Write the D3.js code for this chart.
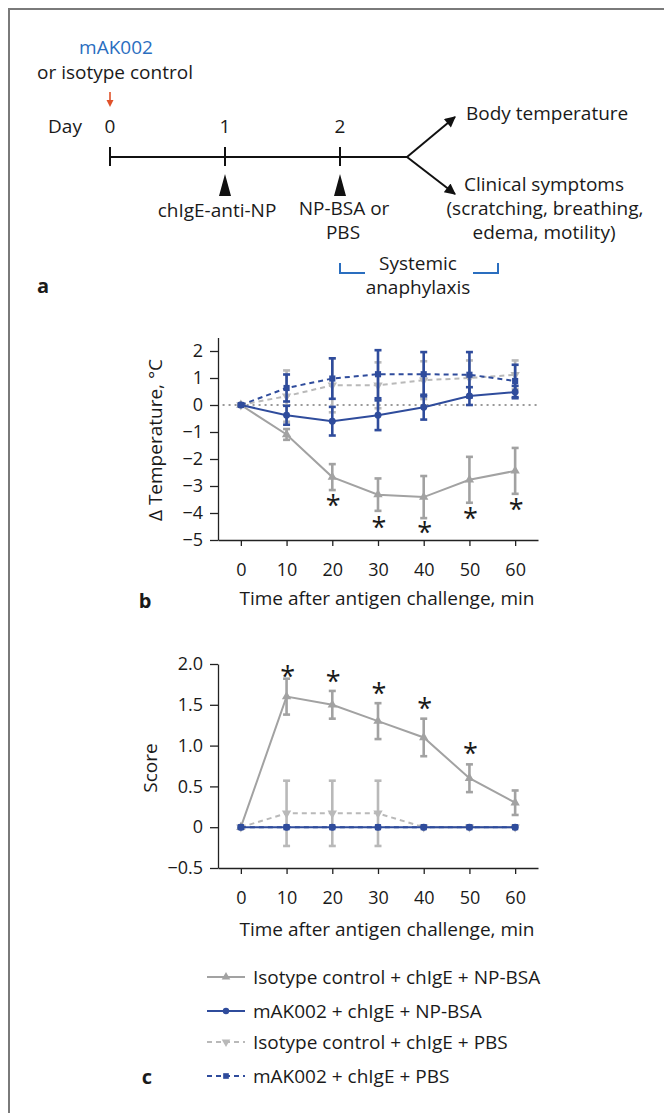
<!DOCTYPE html>
<html>
<head>
<meta charset="utf-8">
<script src="https://cdn.jsdelivr.net/npm/d3@7"></script>
<style>
body { margin: 0; background: #fff; }
text { font-family: "Open Sans", sans-serif; fill: #1a1a1a; }
</style>
</head>
<body>
<svg id="fig" width="664" height="1113"></svg>
<script>
// ---- data ----
const days = [0, 1, 2];
const minutes = [0, 10, 20, 30, 40, 50, 60];
const seriesNames = [
    "Isotype control + chIgE + NP-BSA",
    "mAK002 + chIgE + NP-BSA",
    "Isotype control + chIgE + PBS",
    "mAK002 + chIgE + PBS"
];

// panel b: change in body temperature (°C), mean and error
const tempIsoNP      = [0, -1.09, -2.67, -3.32, -3.41, -2.77, -2.44];
const tempIsoNPErr   = [0, 0.2, 0.48, 0.6, 0.78, 0.85, 0.85];
const tempMakNP      = [0, -0.38, -0.6, -0.38, -0.08, 0.33, 0.48];
const tempMakNPErr   = [0, 0.35, 0.53, 0.55, 0.46, 0.33, 0.23];
const tempIsoPBS     = [0, 0.33, 0.73, 0.73, 0.92, 1.0, 1.12];
const tempIsoPBSErr  = [0, 0.95, 1.0, 0.85, 0.7, 0.65, 0.53];
const tempMakPBS     = [0, 0.63, 0.98, 1.14, 1.14, 1.12, 0.89];
const tempMakPBSErr  = [0, 0.5, 0.75, 0.89, 0.82, 0.84, 0.6];
const tempStarMin    = [20, 30, 40, 50, 60];
const tempStarY      = [-3.59, -4.39, -4.61, -4.09, -3.74];
const tempTicks      = [2, 1, 0, -1, -2, -3, -4, -5];

// panel c: clinical score
const scoreIsoNP     = [0, 1.6, 1.5, 1.3, 1.1, 0.6, 0.3];
const scoreIsoNPErr  = [0, 0.22, 0.17, 0.22, 0.23, 0.17, 0.15];
const scoreMakNP     = [0, 0, 0, 0, 0, 0, 0];
const scoreMakNPErr  = [0, 0, 0, 0, 0, 0, 0];
const scoreIsoPBS    = [0, 0.17, 0.17, 0.17, 0, 0, 0];
const scoreIsoPBSErr = [0, 0.4, 0.4, 0.4, 0, 0, 0];
const scoreMakPBS    = [0, 0, 0, 0, 0, 0, 0];
const scoreMakPBSErr = [0, 0, 0, 0, 0, 0, 0];
const scoreStarMin   = [10, 20, 30, 40, 50];
const scoreStarY     = [1.89, 1.83, 1.68, 1.5, 0.94];
const scoreTicks     = [2, 1.5, 1, 0.5, 0, -0.5];

// ---- styles ----
const gray = "#a2a2a2", grayLight = "#b9b9b9", blue = "#2f4c9c", linkBlue = "#2a6ebf";
const styles = [
    { color: gray,      dash: null,  symbol: d3.symbolTriangle, rot: 0 },
    { color: blue,      dash: null,  symbol: d3.symbolCircle,   rot: 0 },
    { color: grayLight, dash: "5,4", symbol: d3.symbolTriangle, rot: 180 },
    { color: blue,      dash: "5,4", symbol: d3.symbolSquare,   rot: 0 }
];
// draw order: grey dashed, grey solid, blue dashed, blue solid
const drawOrder = [2, 0, 3, 1];
const fs = 19, tickFs = 18;

const svg = d3.select("#fig");

// frame (left and top edges)
svg.append("path")
    .attr("d", "M9,1113V9H664")
    .attr("fill", "none")
    .attr("stroke", "#7a7a7a")
    .attr("stroke-width", 2);

// ---- panel a: timeline ----
const defs = svg.append("defs");
defs.append("marker")
    .attr("id", "head")
    .attr("viewBox", "0 0 10 10")
    .attr("refX", 9).attr("refY", 5)
    .attr("markerWidth", 13).attr("markerHeight", 11)
    .attr("markerUnits", "userSpaceOnUse")
    .attr("orient", "auto")
    .append("path").attr("d", "M0,0L10,5L0,10Z").attr("fill", "#111");

const a = svg.append("g");
const dayX = d3.scaleLinear().domain([0, 2]).range([110, 340]);
const lineY = 157;

a.append("text").attr("x", 116).attr("y", 47).attr("text-anchor", "middle")
    .attr("dominant-baseline", "central").attr("font-size", fs)
    .style("fill", linkBlue).text("mAK002");
a.append("text").attr("x", 115).attr("y", 72).attr("text-anchor", "middle")
    .attr("dominant-baseline", "central").attr("font-size", fs)
    .text("or isotype control");

// red arrow
a.append("line").attr("x1", dayX(0)).attr("x2", dayX(0)).attr("y1", 92).attr("y2", 102)
    .attr("stroke", "#e0522a").attr("stroke-width", 1.6);
a.append("path").attr("d", `M${dayX(0) - 3.5},100L${dayX(0) + 3.5},100L${dayX(0)},107Z`)
    .attr("fill", "#e0522a");

a.append("text").attr("x", 65).attr("y", 126).attr("text-anchor", "middle")
    .attr("dominant-baseline", "central").attr("font-size", fs).text("Day");
a.selectAll(".day").data(days).enter().append("text")
    .attr("x", d => dayX(d)).attr("y", 126).attr("text-anchor", "middle")
    .attr("dominant-baseline", "central").attr("font-size", fs).text(d => d);

a.append("line").attr("x1", dayX(0)).attr("x2", 407).attr("y1", lineY).attr("y2", lineY)
    .attr("stroke", "#111").attr("stroke-width", 2);
a.selectAll(".dtick").data(days).enter().append("line")
    .attr("x1", d => dayX(d)).attr("x2", d => dayX(d)).attr("y1", 147).attr("y2", 166)
    .attr("stroke", "#111").attr("stroke-width", 2);

// branching arrows
[[455, 117], [455, 194]].forEach(([tx, ty]) => {
    a.append("line").attr("x1", 407).attr("y1", lineY).attr("x2", tx).attr("y2", ty)
        .attr("stroke", "#111").attr("stroke-width", 2).attr("marker-end", "url(#head)");
});

// injection triangles
a.selectAll(".tri").data(days.slice(1)).enter().append("path")
    .attr("d", d => `M${dayX(d)},174L${dayX(d) + 6},196L${dayX(d) - 6},196Z`)
    .attr("fill", "#111");

const aText = [
    ["chIgE-anti-NP", 217, 210, "middle"],
    ["NP-BSA or", 344, 208, "middle"],
    ["PBS", 343, 232, "middle"],
    ["Body temperature", 466, 113, "start"],
    ["Clinical symptoms", 544, 184, "middle"],
    ["(scratching, breathing,", 545, 208, "middle"],
    ["edema, motility)", 544, 232, "middle"],
    ["Systemic", 418, 263, "middle"],
    ["anaphylaxis", 418, 287, "middle"]
];
a.selectAll(".lab").data(aText).enter().append("text")
    .attr("x", d => d[1]).attr("y", d => d[2]).attr("text-anchor", d => d[3])
    .attr("dominant-baseline", "central").attr("font-size", fs).text(d => d[0]);

a.append("path").attr("d", "M340,263V273H365M473,273H498V263")
    .attr("fill", "none").attr("stroke", linkBlue).attr("stroke-width", 2);

a.append("text").attr("x", 43).attr("y", 285).attr("text-anchor", "middle")
    .attr("dominant-baseline", "central").attr("font-size", 20).attr("font-weight", 700).text("a");

// ---- shared x scale ----
const x = d3.scaleLinear().domain([-5, 65]).range([218, 538]);

function drawPanel(opt) {
    const g = svg.append("g");
    const y = opt.y;

    // x axis
    g.append("g")
        .attr("transform", `translate(0,${opt.axisY})`)
        .call(d3.axisBottom(x).tickValues(minutes).tickSize(6).tickSizeOuter(0).tickPadding(17))
        .call(s => s.selectAll("text").attr("font-size", tickFs).style("fill", "#1a1a1a")
            .attr("font-family", "Open Sans, sans-serif"))
        .call(s => s.selectAll("line,path").attr("stroke", "#222").attr("stroke-width", 1.3));

    // y axis
    g.append("g")
        .attr("transform", `translate(${x(-5)},0)`)
        .call(d3.axisLeft(y).tickValues(opt.ticks).tickSize(8).tickSizeOuter(0).tickPadding(7)
            .tickFormat(opt.fmt))
        .call(s => s.selectAll("text").attr("font-size", tickFs).style("fill", "#1a1a1a")
            .attr("font-family", "Open Sans, sans-serif"))
        .call(s => s.selectAll("line,path").attr("stroke", "#222").attr("stroke-width", 1.3));

    if (opt.zeroLine) {
        g.append("line").attr("x1", x(-4)).attr("x2", x(65)).attr("y1", y(0)).attr("y2", y(0))
            .attr("stroke", "#999").attr("stroke-width", 2).attr("stroke-dasharray", "2,4");
    }

    drawOrder.forEach(k => {
        const st = styles[k];
        const vals = opt.means[k], errs = opt.errs[k];
        const pts = minutes.map((m, i) => ({ m, v: vals[i], e: errs[i] }));
        const line = d3.line().x(d => x(d.m)).y(d => y(d.v));
        const sg = g.append("g");
        // error bars
        const eb = sg.selectAll(".eb").data(pts.filter(d => d.e > 0)).enter().append("g");
        eb.append("line")
            .attr("x1", d => x(d.m)).attr("x2", d => x(d.m))
            .attr("y1", d => y(d.v - d.e)).attr("y2", d => y(d.v + d.e));
        eb.append("line")
            .attr("x1", d => x(d.m) - 3.5).attr("x2", d => x(d.m) + 3.5)
            .attr("y1", d => y(d.v + d.e)).attr("y2", d => y(d.v + d.e));
        eb.append("line")
            .attr("x1", d => x(d.m) - 3.5).attr("x2", d => x(d.m) + 3.5)
            .attr("y1", d => y(d.v - d.e)).attr("y2", d => y(d.v - d.e));
        eb.selectAll("line").attr("stroke", st.color).attr("stroke-width", 2.6);
        // line
        sg.append("path").datum(pts).attr("d", line)
            .attr("fill", "none").attr("stroke", st.color).attr("stroke-width", 2)
            .attr("stroke-dasharray", st.dash);
        // markers
        sg.selectAll(".mk").data(pts).enter().append("path")
            .attr("d", d3.symbol(st.symbol, 38))
            .attr("transform", d => `translate(${x(d.m)},${y(d.v)}) rotate(${st.rot})`)
            .attr("fill", st.color);
    });

    // significance asterisks
    g.selectAll(".star").data(opt.starMin.map((m, i) => [m, opt.starY[i]])).enter().append("text")
        .attr("x", d => x(d[0]) + 1).attr("y", d => y(d[1]) + 13)
        .attr("text-anchor", "middle").attr("font-size", 27).text("*");

    // titles
    g.append("text").attr("x", 387).attr("y", opt.xTitleY).attr("text-anchor", "middle")
        .attr("dominant-baseline", "central").attr("font-size", fs)
        .text("Time after antigen challenge, min");
    g.append("text")
        .attr("transform", `translate(${opt.yTitleX},${opt.yTitleY}) rotate(-90)`)
        .attr("text-anchor", "middle").attr("dominant-baseline", "central")
        .attr("font-size", fs).text(opt.yTitle);
}

const fmtMinus = v => d3.format("")(v).replace("-", "\u2212");

drawPanel({
    y: d3.scaleLinear().domain([-5, 2.5]).range([540, 337.5]),
    axisY: 540,
    ticks: tempTicks,
    fmt: fmtMinus,
    zeroLine: true,
    means: [tempIsoNP, tempMakNP, tempIsoPBS, tempMakPBS],
    errs: [tempIsoNPErr, tempMakNPErr, tempIsoPBSErr, tempMakPBSErr],
    starMin: tempStarMin, starY: tempStarY,
    xTitleY: 598,
    yTitle: "\u0394 Temperature, \u00b0C", yTitleX: 155, yTitleY: 440
});

drawPanel({
    y: d3.scaleLinear().domain([-0.5, 2]).range([868, 664]),
    axisY: 868,
    ticks: scoreTicks,
    fmt: v => v === 0 ? "0" : d3.format(".1f")(v).replace("-", "\u2212"),
    zeroLine: false,
    means: [scoreIsoNP, scoreMakNP, scoreIsoPBS, scoreMakPBS],
    errs: [scoreIsoNPErr, scoreMakNPErr, scoreIsoPBSErr, scoreMakPBSErr],
    starMin: scoreStarMin, starY: scoreStarY,
    xTitleY: 929,
    yTitle: "Score", yTitleX: 150, yTitleY: 768
});

svg.append("text").attr("x", 145).attr("y", 600).attr("text-anchor", "middle")
    .attr("dominant-baseline", "central").attr("font-size", 20).attr("font-weight", 700).text("b");

// ---- legend ----
const legendY = [977, 1011, 1042, 1076];
const leg = svg.append("g");
seriesNames.forEach((name, k) => {
    const st = styles[k], ly = legendY[k];
    leg.append("line").attr("x1", 207).attr("x2", 245).attr("y1", ly).attr("y2", ly)
        .attr("stroke", st.color).attr("stroke-width", 2).attr("stroke-dasharray", st.dash);
    leg.append("path").attr("d", d3.symbol(st.symbol, 32))
        .attr("transform", `translate(226,${ly}) rotate(${st.rot})`).attr("fill", st.color);
    leg.append("text").attr("x", 253).attr("y", ly).attr("dominant-baseline", "central")
        .attr("font-size", fs).text(name);
});
svg.append("text").attr("x", 147).attr("y", 1076).attr("text-anchor", "middle")
    .attr("dominant-baseline", "central").attr("font-size", 20).attr("font-weight", 700).text("c");
</script>
</body>
</html>
